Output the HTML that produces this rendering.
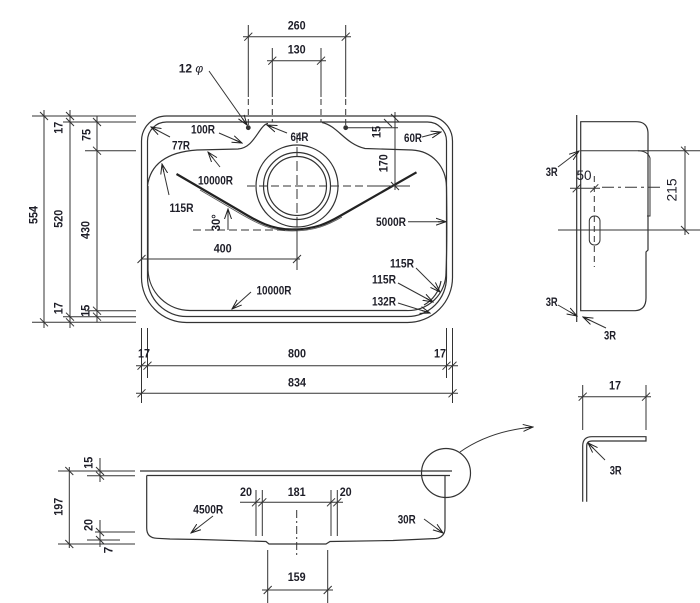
<!DOCTYPE html>
<html><head><meta charset="utf-8"><style>
html,body{margin:0;padding:0;background:#fff;}
svg{display:block;}
text{font-family:"Liberation Sans",sans-serif;font-weight:bold;font-size:12px;fill:#1e1e28;}
.big{font-weight:normal;font-size:14px;}
</style></head><body>
<svg width="700" height="603" viewBox="0 0 700 603" xmlns="http://www.w3.org/2000/svg">
<defs>
<marker id="a" markerWidth="11" markerHeight="8" refX="10" refY="4" orient="auto" markerUnits="userSpaceOnUse"><path d="M0,0.5 L10,4 L0,7.5 M2,4 L10,4" fill="none" stroke="#222" stroke-width="1"/></marker>
<marker id="s" markerWidth="11" markerHeight="8" refX="1" refY="4" orient="auto" markerUnits="userSpaceOnUse"><path d="M10,0.5 L1,4 L10,7.5" fill="none" stroke="#222" stroke-width="1"/></marker>
</defs>
<g fill="none" stroke="#333" stroke-width="1.2">
<!-- main top view outlines -->
<path d="M166.5,116 H427.5 A25,25 0 0 1 452.5,141 V277.5 A45,45 0 0 1 407.5,322.5 H186.5 A45,45 0 0 1 141.5,277.5 V141 A25,25 0 0 1 166.5,116 Z"/>
<path d="M166.5,122 H427.5 A19,19 0 0 1 446.5,141 V277.5 A39,39 0 0 1 407.5,316.5 H186.5 A39,39 0 0 1 147.5,277.5 V141 A19,19 0 0 1 166.5,122 Z"/>
<!-- bowl -->
<path d="M147.5,186 C150,165 166,152 197,150 L238,149 C250,148 255,137 261,129 C264,125 266,123.5 268,123.5 M322,122.5 C338,126 345,144 365,148.5 L412,150 C432,151 446,166 446.5,187 M446.5,187 C447,220 447,250 446,272 A38,38 0 0 1 406,310.5 H190 A42,42 0 0 1 148,270 V186"/>
<path d="M441,281 A34,34 0 0 1 424,305" />
<!-- drain -->
<circle cx="297" cy="186" r="41"/>
<circle cx="297" cy="186" r="33.5"/>
<circle cx="297" cy="186" r="29.5"/>
</g>
<!-- groove V -->
<path d="M176.5,174 L240,211 C258,222 272,229.5 292,229.5 C315,229.5 328,223 340,216 L416.5,172.3" fill="none" stroke="#222" stroke-width="2.2"/>
<path d="M200,190 L240,213.5 C258,224 272,231 292,231 C315,231 328,225 342,217" fill="none" stroke="#555" stroke-width="0.8"/>
<!-- holes -->
<circle cx="248.3" cy="127.7" r="2.4" fill="#333"/>
<circle cx="345.7" cy="127.7" r="2.4" fill="#333"/>
<g fill="none" stroke="#333" stroke-width="1">
<!-- extension lines top -->
<path d="M248.3,25 V97 M345.7,25 V97 M272.3,48 V97 M321,48 V97"/>
<path d="M248.3,99 V125 M345.7,99 V125 M272.3,99 V122 M321,99 V122" stroke-dasharray="6,4"/>
<path d="M297,133 V230" stroke-dasharray="10,4"/>
<path d="M297,230 V270"/>
<path d="M243,36.7 H351 M267,60.7 H326"/>
<path d="M345.7,127.7 H398"/>
<path d="M395,112 V190"/>
<path d="M247,186 H370" stroke-dasharray="8,4"/>
<path d="M370,186 H410"/>
<path d="M193,230 H297" stroke-dasharray="8,4"/>
<path d="M141.5,259 H300"/>
<!-- left dims -->
<path d="M32,116 H136 M63,122 H136 M85,150.7 H136 M32,322.3 H136 M63,316.7 H136 M85,310.7 H136"/>
<path d="M44,110 V328 M70,110 V328 M97,116 V322"/>
<!-- bottom dims -->
<path d="M141.5,328 V403 M147.5,328 V378 M446.5,328 V378 M452.5,328 V403"/>
<path d="M136,365.7 H458 M136,393.3 H458"/>
<!-- ticks vertical dims -->
<path d="M40,112 L48,120 M40,318.3 L48,326.3 M66,112 L74,120 M66,118 L74,126 M66,312.7 L74,320.7 M66,318.3 L74,326.3 M93,118 L101,126 M93,146.7 L101,154.7 M93,306.7 L101,314.7 M93,312.7 L101,320.7 M391,114 L399,122 M384,119 L392,127 M391,182 L399,190 M681,146.7 L689,154.7 M681,226 L689,234 M96,467 L104,475 M96,471.7 L104,479.7 M96,528 L104,536 M96,536 L104,544 M65.3,467 L73.3,475 M65.3,540 L73.3,548"/>
<!-- ticks horizontal dims -->
<path d="M244.3,40.7 L252.3,32.7 M341.7,40.7 L349.7,32.7 M268.3,64.7 L276.3,56.7 M317,64.7 L325,56.7 M137.5,369.7 L145.5,361.7 M143.5,369.7 L151.5,361.7 M442.5,369.7 L450.5,361.7 M448.5,369.7 L456.5,361.7 M137.5,397.3 L145.5,389.3 M448.5,397.3 L456.5,389.3 M137.5,263 L145.5,255 M293,263 L301,255 M572.7,192.3 L580.7,184.3 M590.3,192.3 L598.3,184.3 M578.7,400.7 L586.7,392.7 M642,400.7 L650,392.7 M252,506.3 L260,498.3 M258.3,506.3 L266.3,498.3 M327,506.3 L335,498.3 M333.3,506.3 L341.3,498.3 M263.7,594 L271.7,586 M323.7,594 L331.7,586"/>
<!-- leaders -->
<path d="M209,71 L247,125" marker-end="url(#a)"/>
<path d="M219,133 L242,143" marker-end="url(#a)"/>
<path d="M170,137 L151,127" marker-end="url(#a)"/>
<path d="M287,133 L267,125" marker-end="url(#a)"/>
<path d="M422,137 L441,132" marker-end="url(#a)"/>
<path d="M220,167 L208,152" marker-end="url(#a)"/>
<path d="M169,195 L162,164" marker-end="url(#a)"/>
<path d="M228,230 L228,209" marker-end="url(#a)"/>
<path d="M408,221.7 L446,221.7" marker-end="url(#a)"/>
<path d="M416,268 L440,292" marker-end="url(#a)"/>
<path d="M398,283 L433,302" marker-end="url(#a)"/>
<path d="M398,303 L430,313" marker-end="url(#a)"/>
<path d="M251,292 L232,309" marker-end="url(#a)"/>
<!-- side view -->
<path d="M576.7,115 V322" stroke-width="1.2"/>
<path d="M580.7,121.7 H636 Q648,121.7 648,133.7 V250 L646,252 V298 Q646,310.7 634,310.7 H580.7 Z" stroke-width="1.2"/>
<path d="M638,150.7 Q648,151 650,158 V216 H647"/>
<path d="M580.7,150.7 H700 M558,230 H700"/>
<path d="M602,187.3 H660" stroke-dasharray="12,4,3,4"/>
<path d="M685,146 V235"/>
<path d="M570,188.3 H600"/>
<path d="M594.3,176 V267" stroke-dasharray="6,4"/>
<rect x="589.3" y="216" width="10.7" height="29" rx="5"/>
<path d="M558,167 L579,151" marker-end="url(#a)"/>
<path d="M558,305 L577,316" marker-end="url(#a)"/>
<path d="M606,328 L583,317" marker-end="url(#a)"/>
<!-- section view -->
<path d="M140,471 H452 M146.7,475.5 H450" stroke-width="1.2"/>
<path d="M146.7,475.5 V528 Q146.7,538 157,538.3 L170,539 L200,539.5 L266,541.5 L269,544 L326,544 L330,541.5 L393,540.5 L436,538.5 Q445,537 445,528 V475.5" stroke-width="1.2"/>
<path d="M58,471 H135 M87,475.7 H135 M95,532 H135 M87,540 H120 M58,544 H135"/>
<path d="M69.3,467 V548 M100,458 V482 M100,520 V547"/>
<path d="M256,490 V536 M262.3,490 V536 M331,490 V536 M337.3,490 V536"/>
<path d="M240,502.3 H343"/>
<path d="M296.7,510 V555" stroke-dasharray="8,3,2,3"/>
<path d="M267.7,550 V603 M327.7,550 V603 M262,590 H333"/>
<path d="M213,516 L191,533" marker-end="url(#a)"/>
<path d="M424,519 L443,533" marker-end="url(#a)"/>
<circle cx="446" cy="473" r="24.5" stroke-width="1.2"/>
<path d="M460,452 Q490,431 533,427" marker-end="url(#a)"/>
<!-- detail -->
<path d="M582.7,501.7 V446 Q582.7,436.7 592,436.7 H646 V441 H592 Q586.7,441 586.7,446 V501.7" stroke-width="1.2"/>
<path d="M582.7,385 V430 M646,385 V430 M578,396.7 H651"/>
<path d="M605,460 L588,443" marker-end="url(#a)"/>
</g>
<!-- labels -->
<g text-anchor="middle">
<text x="191" y="72.5">12 <tspan font-style="italic" font-weight="normal">φ</tspan></text>
<text x="296.7" y="29.5" textLength="18" lengthAdjust="spacingAndGlyphs">260</text>
<text x="296.7" y="53.5" textLength="18" lengthAdjust="spacingAndGlyphs">130</text>
<text x="203" y="133.5" textLength="24" lengthAdjust="spacingAndGlyphs">100R</text>
<text x="181" y="149.5" textLength="18" lengthAdjust="spacingAndGlyphs">77R</text>
<text x="299.5" y="141" textLength="18" lengthAdjust="spacingAndGlyphs">64R</text>
<text x="413" y="142" textLength="18" lengthAdjust="spacingAndGlyphs">60R</text>
<text x="215.5" y="184.5" textLength="35" lengthAdjust="spacingAndGlyphs">10000R</text>
<text x="181.5" y="212" textLength="24" lengthAdjust="spacingAndGlyphs">115R</text>
<text x="216" y="226.7" transform="rotate(-90 216 222.7)" textLength="17" lengthAdjust="spacingAndGlyphs">30°</text>
<text x="222.7" y="252.5" textLength="18" lengthAdjust="spacingAndGlyphs">400</text>
<text x="391" y="226" textLength="30" lengthAdjust="spacingAndGlyphs">5000R</text>
<text x="402" y="267.5" textLength="24" lengthAdjust="spacingAndGlyphs">115R</text>
<text x="384" y="283.5" textLength="24" lengthAdjust="spacingAndGlyphs">115R</text>
<text x="384" y="305.5" textLength="24" lengthAdjust="spacingAndGlyphs">132R</text>
<text x="274" y="294.5" textLength="35" lengthAdjust="spacingAndGlyphs">10000R</text>
<text x="376.7" y="136" transform="rotate(-90 376.7 132)" textLength="12" lengthAdjust="spacingAndGlyphs">15</text>
<text x="383.3" y="167.5" transform="rotate(-90 383.3 163.3)" textLength="18" lengthAdjust="spacingAndGlyphs">170</text>
<text x="58.3" y="132" transform="rotate(-90 58.3 127.7)" textLength="12" lengthAdjust="spacingAndGlyphs">17</text>
<text x="86" y="139.3" transform="rotate(-90 86 135)" textLength="12" lengthAdjust="spacingAndGlyphs">75</text>
<text x="33" y="219.3" transform="rotate(-90 33 215)" textLength="18" lengthAdjust="spacingAndGlyphs">554</text>
<text x="58.3" y="223" transform="rotate(-90 58.3 218.7)" textLength="18" lengthAdjust="spacingAndGlyphs">520</text>
<text x="85" y="234.3" transform="rotate(-90 85 230)" textLength="18" lengthAdjust="spacingAndGlyphs">430</text>
<text x="58.3" y="312.6" transform="rotate(-90 58.3 308.3)" textLength="12" lengthAdjust="spacingAndGlyphs">17</text>
<text x="85" y="315" transform="rotate(-90 85 310.7)" textLength="12" lengthAdjust="spacingAndGlyphs">15</text>
<text x="144" y="357.5" textLength="12" lengthAdjust="spacingAndGlyphs">17</text>
<text x="297" y="357.5" textLength="18" lengthAdjust="spacingAndGlyphs">800</text>
<text x="440" y="357.5" textLength="12" lengthAdjust="spacingAndGlyphs">17</text>
<text x="297" y="386.5" textLength="18" lengthAdjust="spacingAndGlyphs">834</text>
<text x="551.7" y="176" textLength="12" lengthAdjust="spacingAndGlyphs">3R</text>
<text class="big" x="584" y="180" textLength="15" lengthAdjust="spacingAndGlyphs">50</text>
<text class="big" x="671.7" y="195" transform="rotate(-90 671.7 190)" textLength="23" lengthAdjust="spacingAndGlyphs">215</text>
<text x="551.7" y="306" textLength="12" lengthAdjust="spacingAndGlyphs">3R</text>
<text x="610" y="339.3" textLength="12" lengthAdjust="spacingAndGlyphs">3R</text>
<text x="615" y="389.3" textLength="12" lengthAdjust="spacingAndGlyphs">17</text>
<text x="615.7" y="474.3" textLength="12" lengthAdjust="spacingAndGlyphs">3R</text>
<text x="88.3" y="467" transform="rotate(-90 88.3 462.7)" textLength="12" lengthAdjust="spacingAndGlyphs">15</text>
<text x="58.3" y="511" transform="rotate(-90 58.3 506.7)" textLength="18" lengthAdjust="spacingAndGlyphs">197</text>
<text x="88.3" y="529.3" transform="rotate(-90 88.3 525)" textLength="12" lengthAdjust="spacingAndGlyphs">20</text>
<text x="108.3" y="554.3" transform="rotate(-90 108.3 550)">7</text>
<text x="208.3" y="513.6" textLength="30" lengthAdjust="spacingAndGlyphs">4500R</text>
<text x="246" y="496" textLength="12" lengthAdjust="spacingAndGlyphs">20</text>
<text x="296.7" y="496" textLength="18" lengthAdjust="spacingAndGlyphs">181</text>
<text x="345.7" y="496" textLength="12" lengthAdjust="spacingAndGlyphs">20</text>
<text x="406.7" y="523.3" textLength="18" lengthAdjust="spacingAndGlyphs">30R</text>
<text x="296.7" y="581" textLength="18" lengthAdjust="spacingAndGlyphs">159</text>
</g>
</svg>
</body></html>
